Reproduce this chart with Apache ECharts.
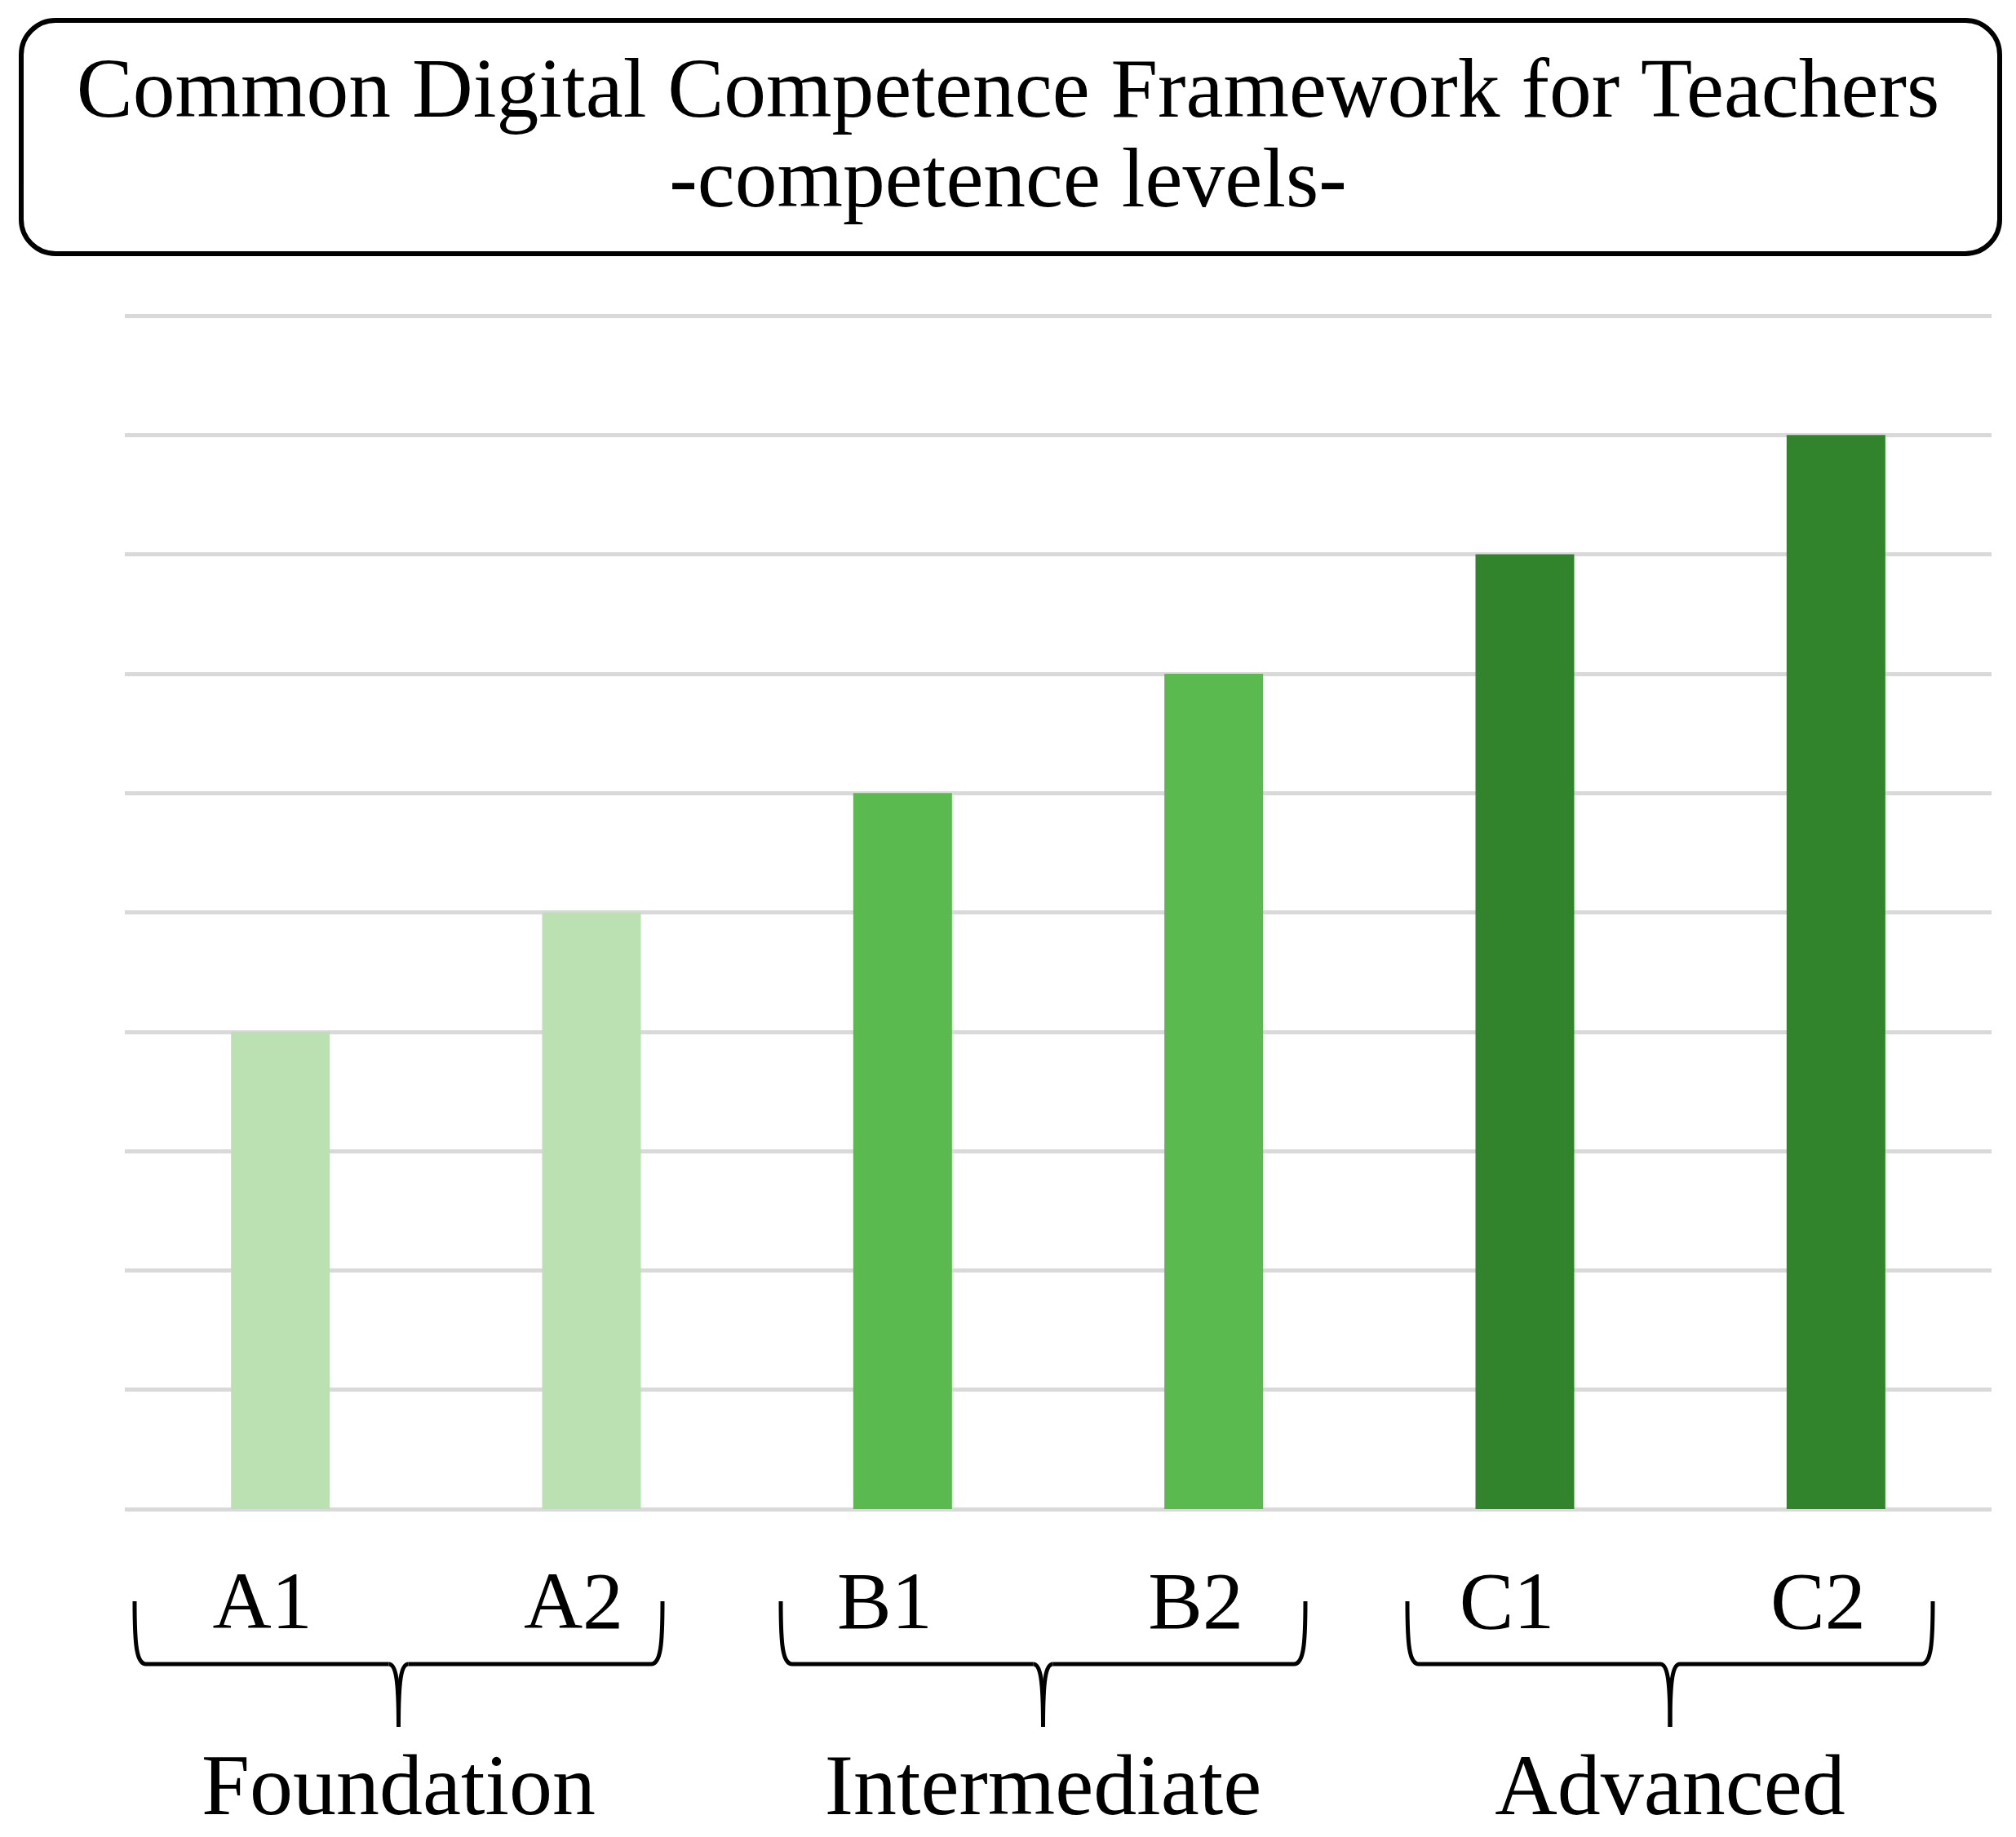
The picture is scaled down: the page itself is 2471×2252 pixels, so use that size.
<!DOCTYPE html>
<html>
<head>
<meta charset="utf-8">
<script src="https://cdn.jsdelivr.net/npm/echarts@6/dist/echarts.min.js"></script>
<style>
  html, body { margin: 0; padding: 0; background: #fff; }
  #container { width: 2471px; height: 2252px; }
</style>
</head>
<body>
<div id="container"></div>
<script>
var dom = document.getElementById("container");
var myChart = echarts.init(dom);

// levels and their height on the chart
var levels = ['A1', 'A2', 'B1', 'B2', 'C1', 'C2'];
var values = [4, 5, 6, 7, 8, 9];
var levelGroup = [0, 0, 1, 1, 2, 2];
var groups = ['Foundation', 'Intermediate', 'Advanced'];
var groupColors = ['#bbe1b3', '#5aba4f', '#31842c'];

var font = 'Liberation Serif';

// brace x-ranges under the labels (left, right)
var braces = [[165, 812], [957, 1600], [1725, 2369]];

var lineStyle = { fill: 'none', stroke: '#000', lineWidth: 5 };

function braceParts(x0, x1) {
  var cx = (x0 + x1) / 2;
  var top = 1963, mid = 2040, tip = 2117;
  var parts = [];
  [[x0, 1], [x1, -1]].forEach(function (s) {
    var x = s[0], d = s[1];
    parts.push({
      type: 'bezierCurve',
      shape: { x1: x, y1: top, cpx1: x, cpy1: mid - 25, cpx2: x + 2 * d, cpy2: mid, x2: x + 14 * d, y2: mid },
      style: lineStyle, z: 10
    });
    parts.push({
      type: 'line',
      shape: { x1: x + 14 * d, y1: mid, x2: cx - 12 * d, y2: mid },
      style: lineStyle, z: 10
    });
    parts.push({
      type: 'bezierCurve',
      shape: { x1: cx - 12 * d, y1: mid, cpx1: cx - 3 * d, cpy1: mid, cpx2: cx, cpy2: mid + 20, x2: cx, y2: tip },
      style: lineStyle, z: 10
    });
  });
  return parts;
}

var graphics = [{
  type: 'rect',
  shape: { x: 26, y: 25, width: 2425, height: 286, r: 42 },
  style: { fill: 'none', stroke: '#000', lineWidth: 6 },
  z: 10
}];
braces.forEach(function (b, i) {
  graphics = graphics.concat(braceParts(b[0], b[1]));
  graphics.push({
    type: 'text',
    x: (b[0] + b[1]) / 2,
    y: 2249,
    style: {
      text: groups[i],
      font: '106px "' + font + '"',
      fill: '#000',
      align: 'center',
      verticalAlign: 'bottom'
    },
    z: 10
  });
});

option = {
  animation: false,
  backgroundColor: '#fff',
  title: {
    text: 'Common Digital Competence Framework for Teachers\n-competence levels-',
    left: 'center',
    top: 61,
    padding: 0,
    textStyle: {
      fontFamily: font,
      fontSize: 103.5,
      fontWeight: 'normal',
      lineHeight: 110,
      color: '#000'
    }
  },
  grid: {
    left: 153,
    right: 30,
    top: 387,
    bottom: 402
  },
  xAxis: {
    type: 'category',
    data: levels,
    axisLine: { show: false },
    axisTick: { show: false },
    axisLabel: {
      margin: 70,
      fontFamily: font,
      fontSize: 100,
      lineHeight: 100,
      color: '#000',
      padding: [0, 44, 0, 0]
    }
  },
  yAxis: {
    type: 'value',
    min: 0,
    max: 10,
    interval: 1,
    axisLabel: { show: false },
    axisLine: { show: false },
    axisTick: { show: false },
    splitLine: { lineStyle: { color: '#d9d9d9', width: 5 } }
  },
  series: [{
    type: 'bar',
    barWidth: 121,
    data: values.map(function (v, i) {
      return { value: v, itemStyle: { color: groupColors[levelGroup[i]] } };
    })
  }],
  graphic: graphics
};

if (option && typeof option === "object") {
  myChart.setOption(option, true);
}
</script>
</body>
</html>
